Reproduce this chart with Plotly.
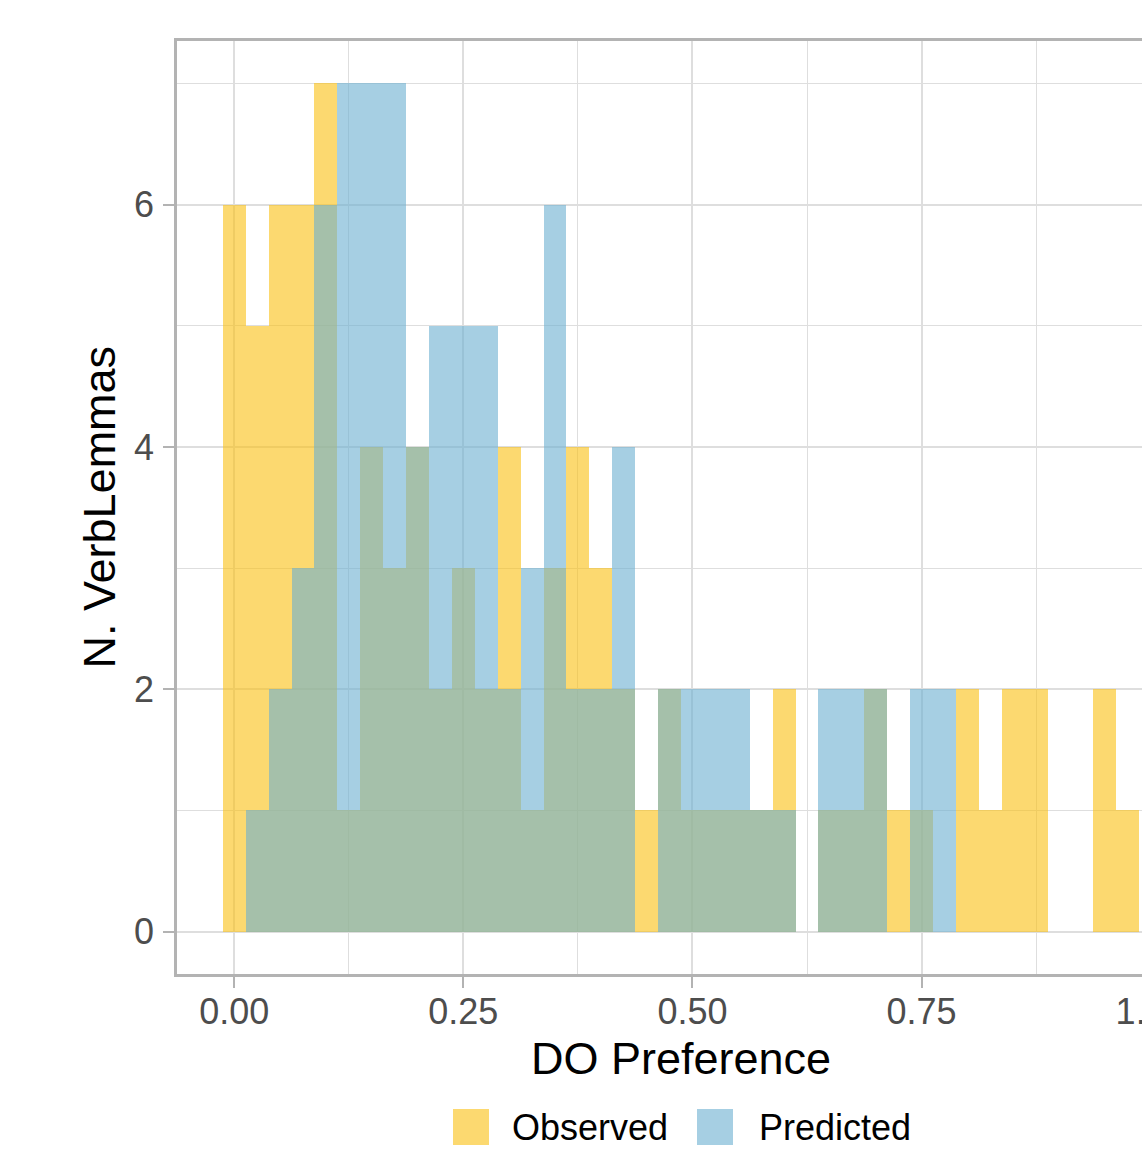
import plotly.graph_objects as go

# ---------------- data ----------------
BIN_WIDTH = 0.025
bin_centers = [0.000, 0.025, 0.050, 0.075, 0.100, 0.125, 0.150, 0.175, 0.200, 0.225,
               0.250, 0.275, 0.300, 0.325, 0.350, 0.375, 0.400, 0.425, 0.450, 0.475,
               0.500, 0.525, 0.550, 0.575, 0.600, 0.625, 0.650, 0.675, 0.700, 0.725,
               0.750, 0.775, 0.800, 0.825, 0.850, 0.875, 0.900, 0.925, 0.950, 0.975]
observed = [6, 5, 6, 6, 7, 1, 4, 3, 4, 2,
            3, 2, 4, 1, 3, 4, 3, 2, 1, 2,
            1, 1, 1, 1, 2, 0, 1, 1, 2, 1,
            1, 0, 2, 1, 2, 2, 0, 0, 2, 1]
predicted = [0, 1, 2, 3, 6, 7, 7, 7, 4, 5,
             5, 5, 2, 3, 6, 2, 2, 4, 0, 2,
             2, 2, 2, 1, 1, 0, 2, 2, 2, 0,
             2, 2, 0, 0, 0, 0, 0, 0, 0, 0]
series_names = ["Observed", "Predicted"]
x_tick_vals = [0.0, 0.25, 0.5, 0.75, 1.0]
x_tick_text = ["0.00", "0.25", "0.50", "0.75", "1.00"]
y_tick_vals = [0, 2, 4, 6]
y_tick_text = ["0", "2", "4", "6"]

# ---------------- style ----------------
OBS_COLOR = "rgba(250,192,17,0.6)"
PRED_COLOR = "rgba(107,175,208,0.6)"
FONT = "Liberation Sans, Arial, Helvetica, sans-serif"
W, H = 1200, 1149
ML, MR, MT, MB = 177, 15, 41, 175
PW, PH = W - ML - MR, H - MT - MB


def px_x(px):
    return (px - ML) / PW


def px_y(py):
    return (H - MB - py) / PH


fig = go.Figure()
fig.add_trace(go.Bar(x=bin_centers, y=observed, width=BIN_WIDTH, name=series_names[0],
                     marker=dict(color=OBS_COLOR, line=dict(width=0)), showlegend=False))
fig.add_trace(go.Bar(x=bin_centers, y=predicted, width=BIN_WIDTH, name=series_names[1],
                     marker=dict(color=PRED_COLOR, line=dict(width=0)), showlegend=False))

grid_col = "#DEDEDE"
axis_common = dict(
    showline=True, mirror=True, linecolor="#B3B3B3", linewidth=2.5,
    showgrid=True, gridcolor=grid_col, gridwidth=2,
    ticks="outside", ticklen=11, tickwidth=2, tickcolor="#B3B3B3",
    tickfont=dict(family=FONT, size=36, color="#4D4D4D"),
    zeroline=False,
)

fig.update_xaxes(range=[-0.0625, 1.0375], tickvals=x_tick_vals, ticktext=x_tick_text,
                 minor=dict(dtick=0.125, tick0=0, showgrid=True, gridcolor=grid_col, gridwidth=1.2, ticks=""),
                 ticklabelstandoff=-7, **axis_common)
fig.update_yaxes(range=[-0.35, 7.35], tickvals=y_tick_vals, ticktext=y_tick_text,
                 minor=dict(dtick=1, tick0=0, showgrid=True, gridcolor=grid_col, gridwidth=1.2, ticks=""),
                 ticklabelstandoff=2, **axis_common)

annotations = [
    dict(text="DO Preference", x=0.5, y=px_y(1058), xref="paper", yref="paper",
         xanchor="center", yanchor="middle", showarrow=False,
         font=dict(family=FONT, size=45, color="black")),
    dict(text="N. VerbLemmas", x=px_x(99), y=0.5, xref="paper", yref="paper",
         xanchor="center", yanchor="middle", textangle=-90, showarrow=False,
         font=dict(family=FONT, size=45, color="black")),
    dict(text=series_names[0], x=px_x(510), y=px_y(1127), xref="paper", yref="paper",
         xanchor="left", yanchor="middle", showarrow=False,
         font=dict(family=FONT, size=36, color="black")),
    dict(text=series_names[1], x=px_x(757), y=px_y(1127), xref="paper", yref="paper",
         xanchor="left", yanchor="middle", showarrow=False,
         font=dict(family=FONT, size=36, color="black")),
]
shapes = [
    dict(type="rect", xref="paper", yref="paper", x0=px_x(453), x1=px_x(489),
         y0=px_y(1145), y1=px_y(1109), fillcolor=OBS_COLOR, line=dict(width=0)),
    dict(type="rect", xref="paper", yref="paper", x0=px_x(697), x1=px_x(733),
         y0=px_y(1145), y1=px_y(1109), fillcolor=PRED_COLOR, line=dict(width=0)),
]

fig.update_layout(
    width=W, height=H, autosize=False,
    margin=dict(l=ML, r=MR, t=MT, b=MB, pad=0),
    paper_bgcolor="white", plot_bgcolor="white",
    barmode="overlay", bargap=0,
    annotations=annotations, shapes=shapes,
    font=dict(family=FONT),
)

fig.write_html(
    "out.html",
    config={"displayModeBar": False},
    post_script="document.body.style.margin='0px';document.body.style.overflow='hidden';"
                "document.documentElement.style.overflow='hidden';",
)
